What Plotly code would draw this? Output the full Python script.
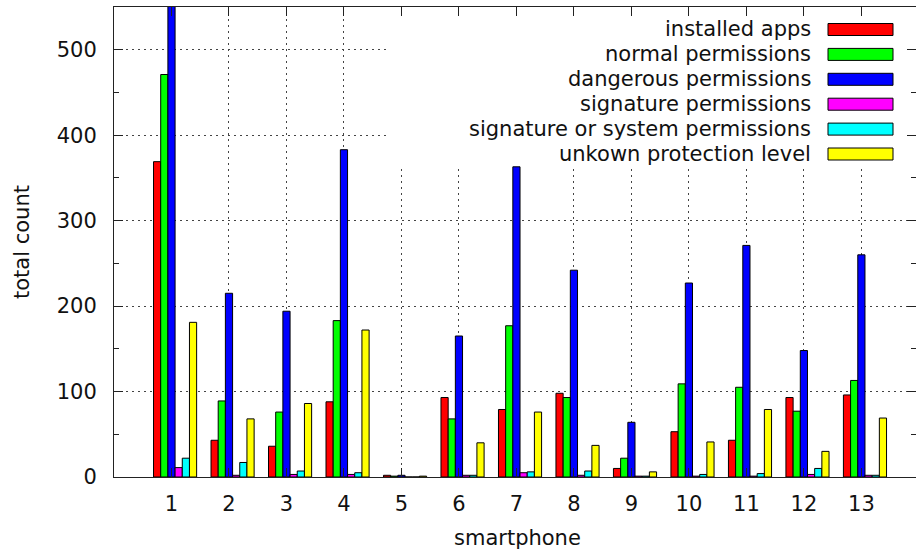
import plotly.graph_objects as go

# ---- data -------------------------------------------------------------
phones = list(range(1, 14))
tick_labels = [str(p) for p in phones]

series_names = [
    "installed apps",
    "normal permissions",
    "dangerous permissions",
    "signature permissions",
    "signature or system permissions",
    "unkown protection level",
]

installed_apps = [369, 43, 36, 88, 2, 93, 79, 98, 10, 53, 43, 93, 96]
normal_perms = [471, 89, 76, 183, 1, 68, 177, 93, 22, 109, 105, 77, 113]
dangerous_perms = [590, 215, 194, 383, 2, 165, 363, 242, 64, 227, 271, 148, 260]
signature_perms = [11, 2, 3, 3, 0, 2, 5, 2, 1, 1, 1, 3, 2]
sig_or_system_perms = [22, 17, 7, 5, 0, 2, 6, 7, 1, 3, 4, 10, 2]
unknown_level = [181, 68, 86, 172, 1, 40, 76, 37, 6, 41, 79, 30, 69]

series = [installed_apps, normal_perms, dangerous_perms,
          signature_perms, sig_or_system_perms, unknown_level]
colors = ["#ff0000", "#00ff00", "#0000ff", "#ff00ff", "#00ffff", "#ffff00"]

# ---- geometry ---------------------------------------------------------
W, H = 916, 554
M_L, M_R, M_T, M_B = 114, 0, 7, 77
X_MAX = 13.95
Y_MAX = 550
BAR_W = 0.125
FONT = "DejaVu Sans"
FS = 21
PW = W - M_L - M_R
PH = H - M_T - M_B


def px_x(p):
    return (p - M_L) / PW


def px_y(p):
    return (H - M_B - p) / PH


fig = go.Figure()

for j, (name, vals, col) in enumerate(zip(series_names, series, colors)):
    fig.add_trace(go.Bar(
        x=phones, y=vals, name=name,
        width=BAR_W, offset=(j - 2.5) * BAR_W,
        marker=dict(color=col, line=dict(color="black", width=1)),
        showlegend=False,
    ))

grid = dict(showgrid=True, gridcolor="#444444", griddash="2px,4px", gridwidth=1)
major_y = [0, 100, 200, 300, 400, 500]
minor_y = [50, 150, 250, 350, 450]

fig.update_layout(
    width=W, height=H,
    margin=dict(l=M_L, r=M_R, t=M_T, b=M_B, pad=0),
    paper_bgcolor="white", plot_bgcolor="white",
    barmode="overlay",
    font=dict(family=FONT, size=FS, color="#111111"),
    xaxis=dict(
        range=[0, X_MAX], tickvals=phones, ticktext=tick_labels,
        ticks="inside", ticklen=9, tickcolor="#222222", tickwidth=1,
        showline=True, linecolor="#222222", linewidth=1, mirror="ticks",
        zeroline=False, ticklabelstandoff=8, **grid,
    ),
    yaxis=dict(
        range=[0, Y_MAX], tickvals=major_y,
        ticks="inside", ticklen=9, tickcolor="#222222", tickwidth=1,
        minor=dict(ticks="inside", ticklen=5, tickvals=minor_y,
                   tickcolor="#222222", showgrid=False),
        showline=True, linecolor="#222222", linewidth=1, mirror="ticks",
        zeroline=False, ticklabelstandoff=12, **grid,
    ),
)

# opaque key area keeps the grid out from behind the legend
fig.add_shape(type="rect", xref="x", yref="y",
              x0=px_x(390) * X_MAX, x1=X_MAX,
              y0=px_y(168) * Y_MAX, y1=Y_MAX,
              fillcolor="white", line=dict(width=0), layer="between")

# key: right-aligned labels followed by colour swatches
row0, row_step = 29.5, 24.9
for i, (name, col) in enumerate(zip(series_names, colors)):
    cy = row0 + row_step * i
    fig.add_annotation(x=px_x(813), y=px_y(cy), xref="paper", yref="paper",
                       text=name, showarrow=False, xanchor="right",
                       yanchor="middle", font=dict(size=FS, family=FONT))
    fig.add_shape(type="rect", xref="paper", yref="paper",
                  x0=px_x(828), x1=px_x(893), y0=px_y(cy + 6), y1=px_y(cy - 6),
                  fillcolor=col, line=dict(color="black", width=1), layer="above")

# axis titles
fig.add_annotation(x=px_x(517), y=px_y(538), xref="paper", yref="paper",
                   text="smartphone", showarrow=False, xanchor="center",
                   yanchor="middle", font=dict(size=FS, family=FONT))
fig.add_annotation(x=px_x(22), y=px_y(242), xref="paper", yref="paper",
                   text="total count", showarrow=False, textangle=-90,
                   xanchor="center", yanchor="middle",
                   font=dict(size=FS, family=FONT))

fig.write_html("out.html")
